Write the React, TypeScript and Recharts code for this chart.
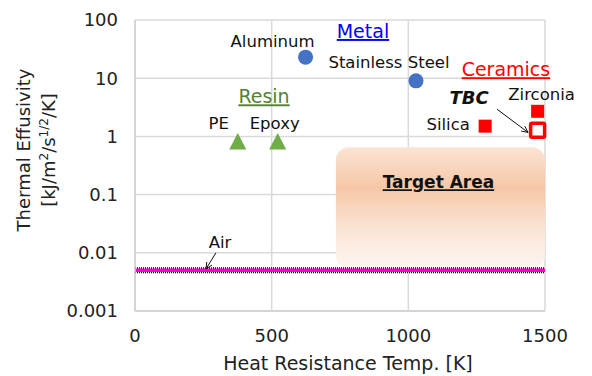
import React from 'react';
import {
  ScatterChart,
  Scatter,
  XAxis,
  YAxis,
  CartesianGrid,
  ReferenceArea,
  ReferenceLine,
  ReferenceDot,
} from 'recharts';

// heat resistance temperature [K] vs thermal effusivity [kJ/m2/s^1/2/K]
const metalNames = ['Aluminum', 'Stainless Steel'];
const metalTemp = [624, 1028];
const metalEffusivity = [23, 9];

const resinNames = ['PE', 'Epoxy'];
const resinTemp = [376, 522];
const resinEffusivity = [0.82, 0.82];

const ceramicNames = ['Silica', 'Zirconia'];
const ceramicTemp = [1281, 1473];
const ceramicEffusivity = [1.5, 2.7];

const tbcNames = ['TBC'];
const tbcTemp = [1473];
const tbcEffusivity = [1.27];

const airEffusivity = 0.005;

// target region: temp range and effusivity range
const targetTemp = [735, 1500];
const targetEffusivity = [0.0053, 0.65];

const xTicks = [0, 500, 1000, 1500];
const yTicks = [0.001, 0.01, 0.1, 1, 10, 100];

const FONT = '"DejaVu Sans", sans-serif';

const toRows = (names: string[], temp: number[], eff: number[]) =>
  names.map((name, i) => ({ name, temp: temp[i], eff: eff[i] }));

const metalData = toRows(metalNames, metalTemp, metalEffusivity);
const resinData = toRows(resinNames, resinTemp, resinEffusivity);
const ceramicData = toRows(ceramicNames, ceramicTemp, ceramicEffusivity);
const tbcData = toRows(tbcNames, tbcTemp, tbcEffusivity);

// label offset from marker centre: [dx to text centre, dy to baseline]
const labelOffset: Record<string, [number, number]> = {
  Aluminum: [-33, -10],
  'Stainless Steel': [-27, -13],
  PE: [-19, -12],
  Epoxy: [-3, -12],
  Silica: [-37, 4],
  Zirconia: [4, -11],
};

const PointLabel = ({ cx, cy, name }: { cx: number; cy: number; name: string }) => {
  const off = labelOffset[name];
  if (!off) return null;
  return (
    <text x={cx + off[0]} y={cy + off[1]} textAnchor="middle" fontSize={16.5} fontFamily={FONT} fill="#111">
      {name}
    </text>
  );
};

const circleShape = (p: any) => (
  <g>
    <circle cx={p.cx} cy={p.cy} r={7.5} fill="#4472C4" />
    <PointLabel cx={p.cx} cy={p.cy} name={p.payload.name} />
  </g>
);

const triangleShape = (p: any) => (
  <g>
    <path d={`M${p.cx},${p.cy - 8.5} L${p.cx + 8.5},${p.cy + 8} L${p.cx - 8.5},${p.cy + 8} Z`} fill="#70AD47" />
    <PointLabel cx={p.cx} cy={p.cy} name={p.payload.name} />
  </g>
);

const squareShape = (p: any) => (
  <g>
    <rect x={p.cx - 6.5} y={p.cy - 6.5} width={13} height={13} fill="#FF0000" />
    <PointLabel cx={p.cx} cy={p.cy} name={p.payload.name} />
  </g>
);

const hollowSquareShape = (p: any) => (
  <rect x={p.cx - 7} y={p.cy - 7} width={14} height={14} fill="#fff" stroke="#FF0000" strokeWidth={3.5} rx={1.5} />
);

const titleShape = (text: string, color: string, opts: { bold?: boolean; italic?: boolean; underline?: boolean; size?: number }) =>
  (p: any) => (
    <text
      x={p.cx}
      y={p.cy}
      textAnchor="middle"
      fontFamily={FONT}
      fontSize={opts.size ?? 18}
      fontWeight={opts.bold ? 'bold' : 'normal'}
      fontStyle={opts.italic ? 'italic' : 'normal'}
      textDecoration={opts.underline ? 'underline' : 'none'}
      fill={color}
    >
      {text}
    </text>
  );

const arrowShape = (p: any) => {
  const { x1, y1, x2, y2 } = p;
  const a = Math.atan2(y2 - y1, x2 - x1);
  const h = 7;
  const s = 0.45;
  return (
    <g stroke="#111" strokeWidth={1} fill="none">
      <line x1={x1} y1={y1} x2={x2} y2={y2} />
      <path
        d={`M${x2 - h * Math.cos(a - s)},${y2 - h * Math.sin(a - s)} L${x2},${y2} L${x2 - h * Math.cos(a + s)},${y2 - h * Math.sin(a + s)}`}
      />
    </g>
  );
};

const targetShape = (p: any) => (
  <g>
    <rect x={p.x} y={p.y} width={p.width} height={p.height} rx={13} fill="url(#targetFill)" />
    <text
      x={p.x + p.width / 2 - 2}
      y={p.y + 41}
      textAnchor="middle"
      fontFamily={FONT}
      fontSize={17}
      fontWeight="bold"
      textDecoration="underline"
      fill="#111"
    >
      Target Area
    </text>
  </g>
);

const yTitle = (props: any) => {
  const vb = props.viewBox;
  const cy = vb.y + 130;
  return (
    <g fontFamily={FONT} fontSize={18} fill="#222">
      <text transform={`translate(30, ${cy}) rotate(-90)`} textAnchor="middle">
        Thermal Effusivity
      </text>
      <text transform={`translate(55, ${cy}) rotate(-90)`} textAnchor="middle">
        [kJ/m<tspan fontSize={12} dy={-7}>2</tspan>
        <tspan dy={7}>/s</tspan>
        <tspan fontSize={12} dy={-7}>1/2</tspan>
        <tspan dy={7}>/K]</tspan>
      </text>
    </g>
  );
};

const App = () => (
  <div style={{ position: 'absolute', left: 0, top: 0, width: 592, height: 376, background: '#fff' }}>
    <ScatterChart width={592} height={376} margin={{ top: 20, right: 47, left: 0, bottom: 0 }}>
      <defs>
        <linearGradient id="targetFill" x1="0" y1="0" x2="0" y2="1">
          <stop offset="0%" stopColor="#fbe4d4" />
          <stop offset="33%" stopColor="#f6c7a6" />
          <stop offset="70%" stopColor="#fbe6d8" />
          <stop offset="100%" stopColor="#fdf6f1" />
        </linearGradient>
      </defs>
      <CartesianGrid stroke="#d9d9d9" strokeWidth={1.5} />
      <XAxis
        type="number"
        dataKey="temp"
        domain={[0, 1500]}
        ticks={xTicks}
        height={65}
        tickSize={0}
        tickMargin={18}
        axisLine={{ stroke: '#d0d0d0', strokeWidth: 1.5 }}
        tick={{ fontSize: 18, fontFamily: FONT, fill: '#222' }}
        label={{
          value: 'Heat Resistance Temp. [K]',
          position: 'insideBottom',
          offset: 6,
          dx: 8,
          style: { fontSize: 19, fontFamily: FONT, fill: '#222' },
        }}
      />
      <YAxis
        type="number"
        dataKey="eff"
        scale="log"
        domain={[0.001, 100]}
        ticks={yTicks}
        allowDataOverflow
        width={135}
        tickSize={0}
        tickMargin={17}
        axisLine={{ stroke: '#d0d0d0', strokeWidth: 1.5 }}
        tick={{ fontSize: 18, fontFamily: FONT, fill: '#222' }}
        tickFormatter={(v: number) => String(v)}
        label={{ content: yTitle }}
      />
      <ReferenceArea
        x1={targetTemp[0]}
        x2={targetTemp[1]}
        y1={targetEffusivity[0]}
        y2={targetEffusivity[1]}
        shape={targetShape}
      />
      {/* air: magenta band edged with black dots */}
      <ReferenceLine y={airEffusivity} stroke="#000" strokeWidth={6} strokeDasharray="1 1" />
      <ReferenceLine y={airEffusivity} stroke="#FF00CC" strokeWidth={3.5} />
      <ReferenceLine segment={[{ x: 296, y: 0.01 }, { x: 260, y: 0.0053 }]} shape={arrowShape} />
      <ReferenceLine segment={[{ x: 1325, y: 2.92 }, { x: 1438, y: 1.17 }]} shape={arrowShape} />
      <Scatter data={metalData} shape={circleShape} isAnimationActive={false} />
      <Scatter data={resinData} shape={triangleShape} isAnimationActive={false} />
      <Scatter data={ceramicData} shape={squareShape} isAnimationActive={false} />
      <Scatter data={tbcData} shape={hollowSquareShape} isAnimationActive={false} />
      <ReferenceDot x={834} y={49} shape={titleShape('Metal', '#0000FF', { underline: true, size: 19 })} />
      <ReferenceDot x={472} y={3.7} shape={titleShape('Resin', '#548235', { underline: true, size: 19 })} />
      <ReferenceDot x={1357} y={10.8} shape={titleShape('Ceramics', '#FF0000', { underline: true, size: 19 })} />
      <ReferenceDot x={1222} y={3.56} shape={titleShape('TBC', '#111', { bold: true, italic: true, size: 18 })} />
      <ReferenceDot x={311} y={0.0122} shape={titleShape('Air', '#111', { size: 16.5 })} />
    </ScatterChart>
  </div>
);

export default App;
